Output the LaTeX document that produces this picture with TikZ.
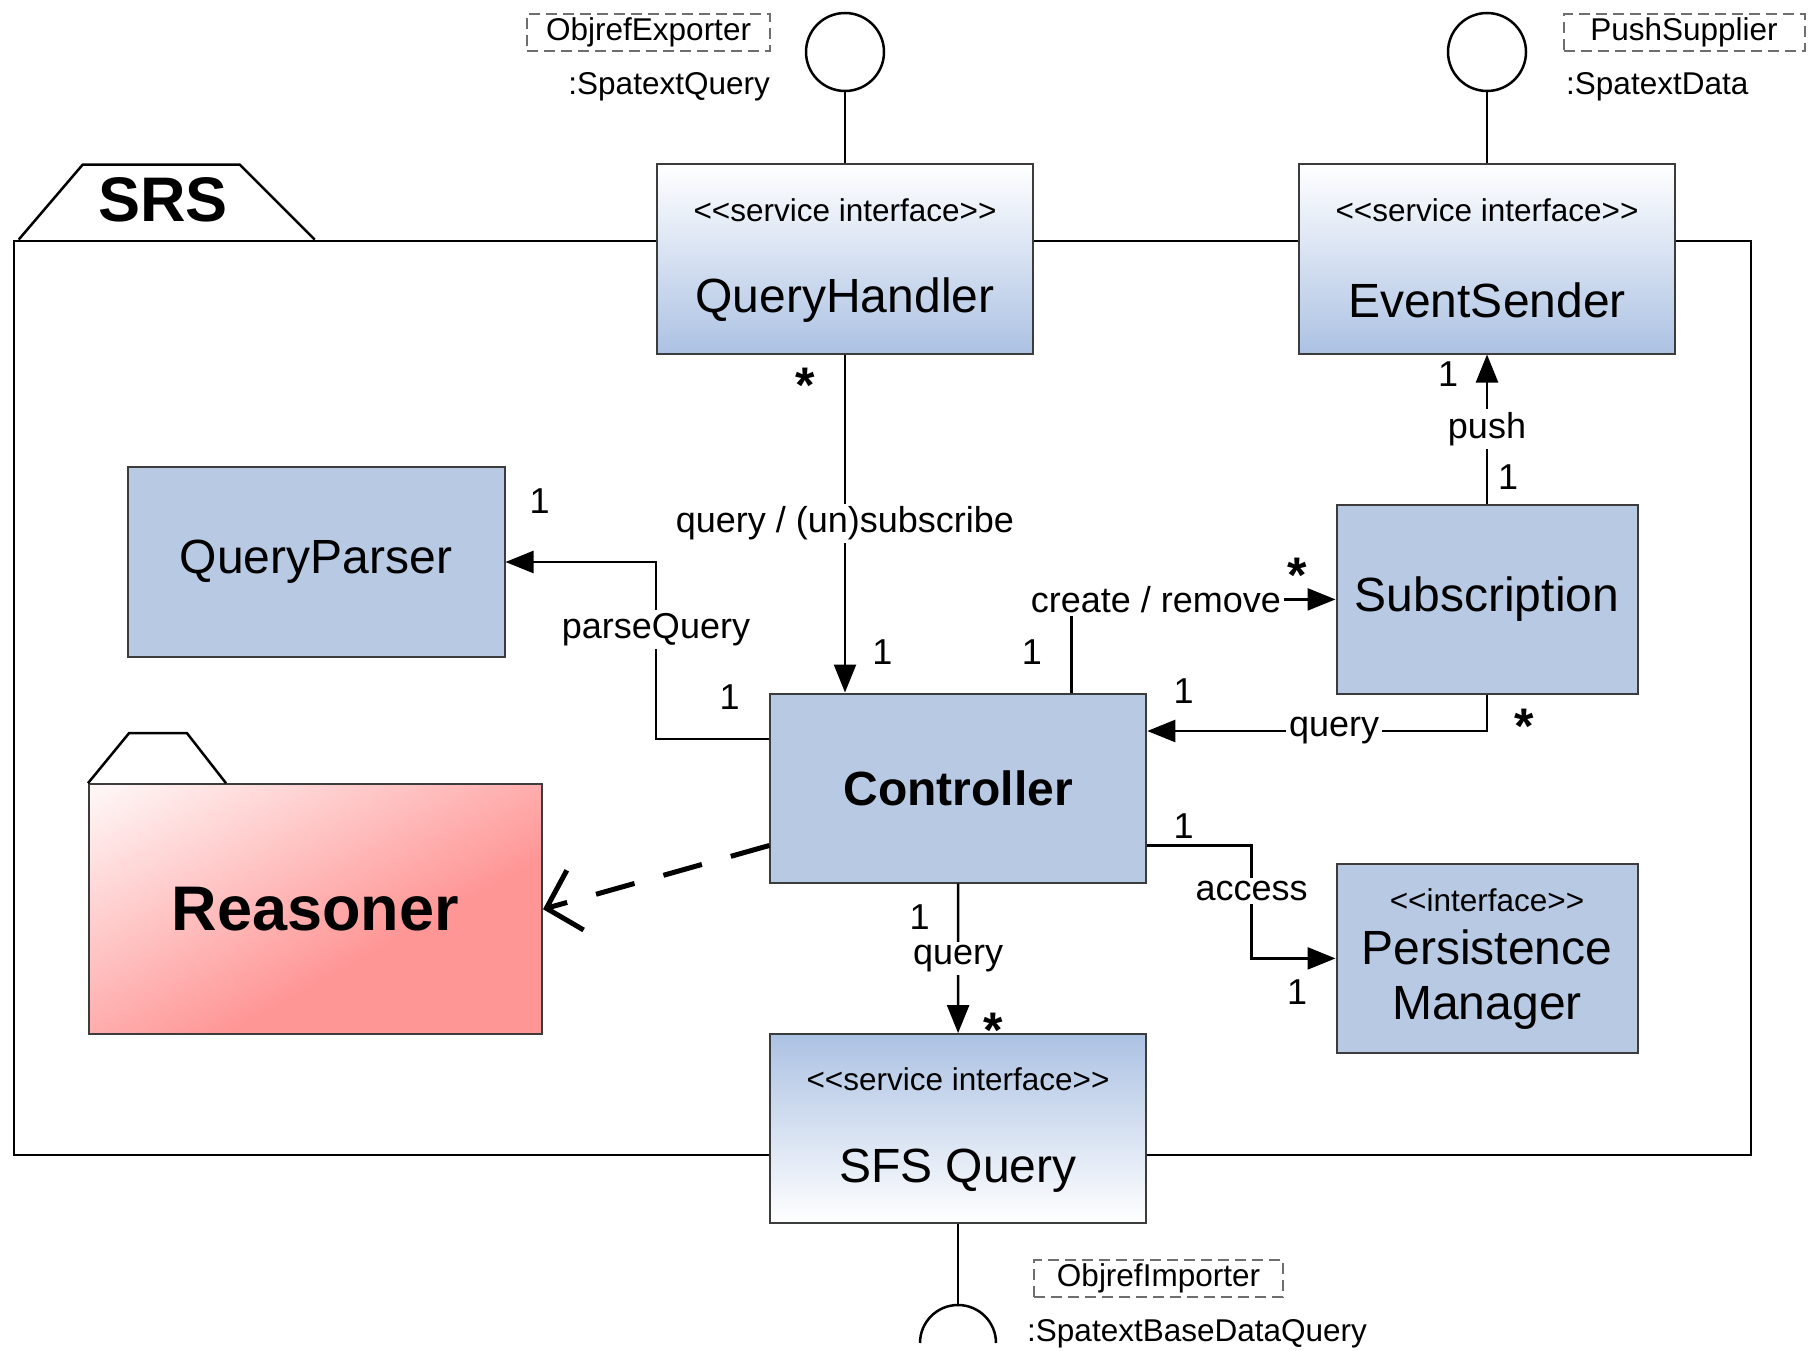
\documentclass[tikz,border=0pt]{standalone}
\usepackage{fontspec}
\setmainfont{Liberation Sans}
\usepackage{tikz}
\usetikzlibrary{arrows.meta, positioning, calc}
\definecolor{boxblue}{RGB}{184,201,227}
\definecolor{gradblue}{RGB}{172,194,227}
\definecolor{boxline}{RGB}{60,60,60}
\definecolor{reasonred}{RGB}{255,150,150}
\definecolor{portgray}{RGB}{110,110,110}
\pgfdeclarehorizontalshading{reasonshade}{100bp}{color(0bp)=(white); color(13bp)=(white); color(60bp)=(reasonred); color(100bp)=(reasonred)}
\newcommand{\stlt}{<\kern0pt<}
\newcommand{\stgt}{>\kern0pt>}

\begin{document}
\begin{tikzpicture}[x=1pt, y=-1pt,
    cls/.style={rectangle, draw=boxline, line width=2pt, fill=boxblue, minimum width=376pt, minimum height=189pt, inner sep=0pt, font=\fontsize{48}{55.6}\selectfont},
    smallcls/.style={cls, minimum width=301pt},
    svc/.style={cls, top color=white, bottom color=gradblue},
    svcup/.style={cls, top color=gradblue, bottom color=white},
    cname/.style={font=\fontsize{48}{55.6}\selectfont, align=center, inner sep=0pt},
    stereo/.style={font=\fontsize{31.5}{36}\selectfont, inner sep=0pt},
    port/.style={rectangle, draw=portgray, dash pattern=on 11pt off 6pt, line width=2pt, minimum width=243pt, minimum height=37pt, inner sep=0pt, font=\fontsize{31.5}{36}\selectfont},
    ptype/.style={font=\fontsize{31.5}{36}\selectfont, inner sep=0pt},
    lbl/.style={fill=white, inner sep=3pt, font=\fontsize{36}{40}\selectfont},
    mult/.style={inner sep=0pt, font=\fontsize{36}{40}\selectfont},
    many/.style={inner sep=0pt, font=\fontsize{50}{50}\selectfont\bfseries},
    pkgline/.style={draw=black, line width=2.5pt},
    conn/.style={line width=2.5pt},
    arrow/.style={conn, -{Triangle[length=28pt, width=22pt]}},
    dep/.style={line width=5pt, dash pattern=on 40pt off 30pt, -{Straight Barb[length=30pt, width=62pt]}}
]
\useasboundingbox (0,0) rectangle (1816,1351);

% package SRS
\node[pkgline, rectangle, minimum width=1737pt, minimum height=914pt, inner sep=0pt] (srs) at (882.5,697.8) {};
\draw[pkgline] ([xshift=6pt]srs.north west) -- ++(64,-75) -- ++(157,0) -- ++(75,75);
\node[font=\fontsize{63}{70}\selectfont\bfseries, inner sep=0pt] (srstitle) at (163,200) {SRS};

% service interfaces
\node[svc] (qh) at (845,259) {};
\node[stereo] (qhst) at ([yshift=-47pt]qh.north) {\stlt service interface\stgt};
\node[cname] (qhname) at ([yshift=-41pt]qh.center) {QueryHandler};
\node[svc] (es) at (1487,259) {};
\node[stereo] (esst) at ([yshift=-47pt]es.north) {\stlt service interface\stgt};
\node[cname] (esname) at ([yshift=-41pt]es.center) {EventSender};
\node[svcup] (sfs) at (958,1128.6) {};
\node[stereo] (sfsst) at ([yshift=-46pt]sfs.north) {\stlt service interface\stgt};
\node[cname] (sfsname) at ([yshift=-42pt]sfs.center) {SFS Query};

% classes
\node[cls, minimum width=377pt, minimum height=190pt] (qp) at (316,562) {QueryParser};
\node[smallcls] (sub) at (1487,599.4) {Subscription};
\node[cls, font=\fontsize{48}{55.6}\selectfont\bfseries] (ctrl) at (958.3,788) {Controller};
\node[smallcls] (pm) at (1487,958.4) {};
\node[stereo] (pmst) at ([yshift=-37pt]pm.north) {\stlt interface\stgt};
\node[cname] (pmname) at ([yshift=-21pt]pm.center) {Persistence\\Manager};

% Reasoner package
\node[rectangle, draw=boxline, line width=2pt, minimum width=453pt, minimum height=250pt, inner sep=0pt,
      shading=reasonshade, shading angle=-61,
      font=\fontsize{63}{70}\selectfont\bfseries] (reasoner) at (315.5,909.2) {Reasoner};
\draw[pkgline] (reasoner.north west) -- ++(41,-50) -- ++(58,0) -- ++(39,50);

% provided / required interfaces
\node[circle, draw, line width=2.5pt, minimum size=78pt, inner sep=0pt] (qhport) at (845,52) {};
\draw[conn] (qhport) -- (qh);
\node[port] (qhexp) at (648.6,32.5) {ObjrefExporter};
\node[ptype, anchor=east] (qhtype) at (770,87) {:SpatextQuery};
\node[circle, draw, line width=2.5pt, minimum size=78pt, inner sep=0pt] (esport) at (1487,52) {};
\draw[conn] (esport) -- (es);
\node[port, minimum width=241pt] (espush) at (1684,32.5) {PushSupplier};
\node[ptype, anchor=west] (estype) at (1566,87) {:SpatextData};
\coordinate (sock) at (958,1305);
\draw[conn] (sfs.south) -- (sock);
\draw[conn] ([xshift=-38pt,yshift=-38pt]sock) arc[start angle=180, end angle=0, radius=38pt];
\node[port, minimum width=249pt] (sfsimp) at (1158.5,1278.5) {ObjrefImporter};
\node[ptype, anchor=west] (sfstype) at (1027,1334) {:SpatextBaseDataQuery};

% connectors
\draw[arrow] (qh) -- node[lbl] {query / (un)subscribe} (qh |- ctrl.north);
\draw[arrow] ([yshift=49pt]ctrl.west) -- ++(-113.3,0) |- node[lbl, pos=0.31] {parseQuery} (qp.east);
\draw[arrow] ([xshift=113pt]ctrl.north) |- node[lbl, pos=0.66] {create / remove} (sub.west);
\draw[arrow] (sub.south) |- node[lbl, pos=0.725] {query} ([yshift=57pt]ctrl.east);
\draw[arrow] (sub) -- node[lbl] {push} (es);
\draw[arrow] ([yshift=-57.5pt]ctrl.east) -- ++(104.3,0) |- node[lbl, pos=0.2] {access} (pm.west);
\draw[arrow] (ctrl) -- node[lbl] {query} (sfs);
\draw[dep] ([yshift=-57.5pt]ctrl.west) -- (reasoner.east);

% multiplicities
\node[many] (m1) at (805,385) {*};
\node[mult] (m2) at (882.5,652) {1};
\node[mult] (m3) at (729.6,697) {1};
\node[mult] (m4) at (539.7,501.5) {1};
\node[mult] (m5) at (1032,652) {1};
\node[many] (m6) at (1297,575) {*};
\node[many] (m7) at (1524,726) {*};
\node[mult] (m8) at (1183.6,691.4) {1};
\node[mult] (m9) at (1448,374) {1};
\node[mult] (m10) at (1508,477) {1};
\node[mult] (m11) at (1183.6,825.8) {1};
\node[mult] (m12) at (1297,992.6) {1};
\node[mult] (m13) at (919.6,917.3) {1};
\node[many] (m14) at (993.7,1030) {*};
\end{tikzpicture}
\end{document}
